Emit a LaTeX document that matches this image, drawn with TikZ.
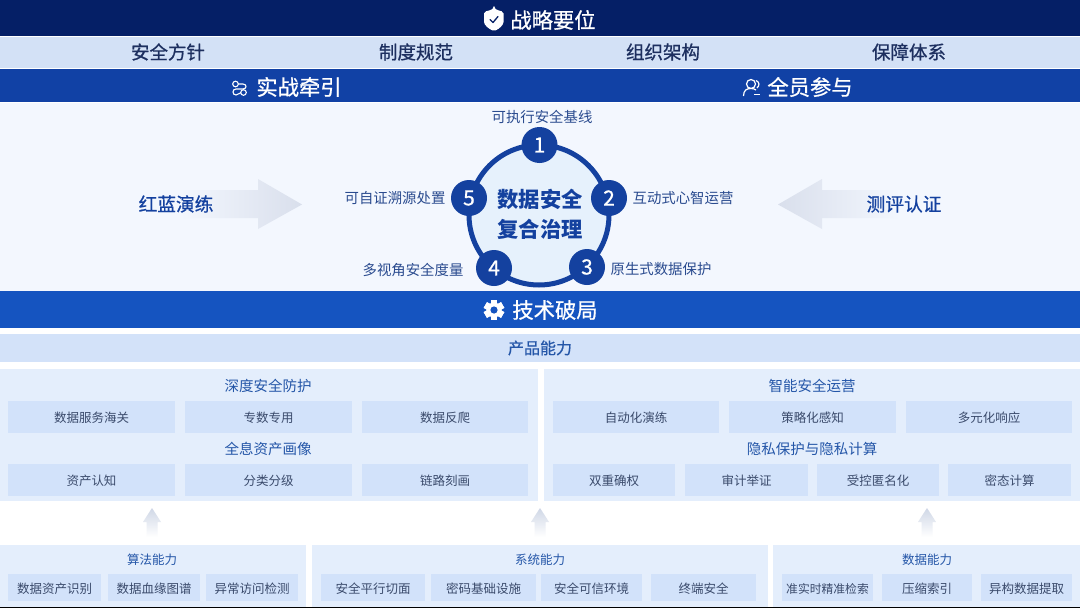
\documentclass[tikz,border=0pt]{standalone}
\usepackage{fontspec}
\setmainfont{Noto Sans CJK SC}
\newfontfamily\medfont[FakeBold=0.8]{Noto Sans CJK SC}
\usetikzlibrary{calc}
\definecolor{navy}{HTML}{051F66}
\definecolor{rowlight}{HTML}{D3E1F6}
\definecolor{barblue}{HTML}{1141A5}
\definecolor{techblue}{HTML}{1554C0}
\definecolor{panelbg}{HTML}{F3F7FE}
\definecolor{prodbar}{HTML}{D3E2F9}
\definecolor{panelblue}{HTML}{E4EEFC}
\definecolor{cellblue}{HTML}{D2E2FA}
\definecolor{inktitle}{HTML}{2456A8}
\definecolor{inkdark}{HTML}{1D2F5F}
\definecolor{inkcell}{HTML}{3A4A6B}
\definecolor{inklabel}{HTML}{2A4B8F}
\definecolor{ringblue}{HTML}{14419F}
\definecolor{discfill}{HTML}{E6F1FC}
\definecolor{arrowgrey}{HTML}{D9DFEC}
\definecolor{uparrowgrey}{HTML}{CFD7E6}
\definecolor{baseline}{HTML}{9AA5B8}
\tikzset{
  x=1pt,y=-1pt,
  rect/.style={inner sep=0pt,outer sep=0pt,anchor=north west},
  cell/.style={rect,fill=cellblue,text=inkcell,font=\fontsize{12.5}{14}\selectfont,align=center,text height=13pt,text depth=1.5pt},
  pillar/.style={inner sep=0pt,text=inkdark,font=\medfont\fontsize{18.5}{20}\selectfont},
  bartext/.style={inner sep=0pt,text=white,font=\medfont\fontsize{21.3}{24}\selectfont},
  subhead/.style={inner sep=0pt,text=inktitle,font=\fontsize{14.5}{16}\selectfont},
  subheadsm/.style={inner sep=0pt,text=inktitle,font=\fontsize{12.5}{14}\selectfont},
  badge/.style={circle,fill=ringblue,text=white,minimum size=36pt,inner sep=0pt,font=\medfont\fontsize{21}{24}\selectfont},
  looplabel/.style={inner sep=0pt,text=inklabel,font=\fontsize{14.4}{16}\selectfont},
  drilllabel/.style={inner sep=0pt,text=ringblue,font=\medfont\fontsize{18.7}{20}\selectfont},
}
\newcommand{\boxat}[7]{\node[#1,minimum width=#5pt-#3pt,minimum height=#6pt-#4pt] (#2) at (#3,#4) {#7};}
\begin{document}
\begin{tikzpicture}
\useasboundingbox (0,0) rectangle (1080,608);
\fill[white] (0,0) rectangle (1080,608);
% bands
\fill[navy] (0,0) rectangle (1080,36);
\fill[rowlight] (0,37) rectangle (1080,68);
\fill[barblue] (0,69) rectangle (1080,102);
\fill[panelbg] (0,103) rectangle (1080,291);
\fill[techblue] (0,291) rectangle (1080,328);
\fill[prodbar] (0,334) rectangle (1080,362);
\fill[panelblue] (0,369) rectangle (538,501);
\fill[panelblue] (544,369) rectangle (1080,501);
\fill[panelblue] (0,545) rectangle (306,607);
\fill[panelblue] (312,545) rectangle (768,607);
\fill[panelblue] (773,545) rectangle (1080,607);
\fill[baseline] (0,607) rectangle (1080,608);
% top titles
\node[bartext] (tStrategy) at (553,20) {战略要位};
\node[pillar] (p1) at (168,52) {安全方针};
\node[pillar] (p2) at (416,52) {制度规范};
\node[pillar] (p3) at (663,52) {组织架构};
\node[pillar] (p4) at (909,52) {保障体系};
\node[bartext] (tPractice) at (299,87) {实战牵引};
\node[bartext] (tAll) at (810,87) {全员参与};
\node[bartext] (tTech) at (555,310) {技术破局};
\node[inner sep=0pt,text=inktitle,font=\medfont\fontsize{16}{18}\selectfont] (tProduct) at (540,348) {产品能力};
% shield icon
\fill[white,rounded corners=2pt] (494,8) .. controls (497,10) and (500,11) .. (503.5,11.5) -- (503.5,20)
  .. controls (503.5,25) and (499,29) .. (494,31) .. controls (489,29) and (484,25) .. (484,20)
  -- (484,11.5) .. controls (488,11) and (491,10) .. (494,8) -- cycle;
\draw[navy,line width=1.3pt,line cap=round,line join=round] (490,19.5) -- (493,22.5) -- (498,16.5);
% link icon
\draw[white,line width=1.1pt] (235.5,84) circle (2.8) (243.5,92.5) circle (2.8);
\draw[white,line width=1.1pt,line cap=round] (238.3,84) -- (243,84) .. controls (247,84) and (247,89) .. (243,89) -- (236,89) .. controls (232,89) and (232,95) .. (236,95) -- (240.5,93);
% people icon
\draw[white,line width=1.2pt] (751,84) circle (4.5);
\draw[white,line width=1.2pt] (743.5,96) .. controls (743.5,90) and (747,88.5) .. (751,88.5) .. controls (753,88.5) and (755,89) .. (756,90);
\draw[white,line width=1.2pt] (756,80.5) .. controls (760,82) and (759.5,86) .. (757,88);
\draw[white,line width=1.2pt] (754,94.5) -- (760,94.5);
% gear icon
\foreach \a in {0,60,...,300}{\fill[white,rotate around={\a:(494,310)}] (490.7,300) rectangle (497.3,320);}
\fill[white] (494,310) circle (7.5);
\fill[techblue] (494,310) circle (3.6);
% side arrows
\shade[left color=panelbg,right color=arrowgrey]
  (180,190) -- (258,190) -- (258,179) -- (302,204.5) -- (258,229) -- (258,218) -- (180,218) -- cycle;
\shade[left color=arrowgrey,right color=panelbg]
  (900,190) -- (822,190) -- (822,179) -- (778,204.5) -- (822,229) -- (822,218) -- (900,218) -- cycle;
\node[drilllabel] (tRed) at (176,204) {红蓝演练};
\node[drilllabel] (tEval) at (904,204) {测评认证};
% loop
\node[circle,draw=ringblue,line width=5pt,fill=discfill,minimum size=140pt,inner sep=0pt] (ring) at (539,215) {};
\node[inner sep=0pt,text=ringblue,font=\bfseries\fontsize{21.3}{30}\selectfont,align=center] (core) at (540,214) {数据安全\\复合治理};
\node[badge] (b1) at (539.5,145) {1};
\node[badge] (b2) at (609,198) {2};
\node[badge] (b3) at (587,267) {3};
\node[badge] (b4) at (494,268) {4};
\node[badge] (b5) at (469,198) {5};
\node[looplabel] (l1) at (542,116.7) {可执行安全基线};
\node[looplabel] (l2) at (683,198) {互动式心智运营};
\node[looplabel] (l3) at (661,269.5) {原生式数据保护};
\node[looplabel] (l4) at (413,270) {多视角安全度量};
\node[looplabel] (l5) at (395,198) {可自证溯源处置};
% product panels
\node[subhead] (h1) at (268,385.5) {深度安全防护};
\node[subhead] (h2) at (268,448.5) {全息资产画像};
\node[subhead] (h3) at (812,385.5) {智能安全运营};
\node[subhead] (h4) at (812,448.5) {隐私保护与隐私计算};
\boxat{cell}{c11}{8}{401}{175}{433}{数据服务海关}
\boxat{cell}{c12}{185}{401}{352}{433}{专数专用}
\boxat{cell}{c13}{362}{401}{528}{433}{数据反爬}
\boxat{cell}{c21}{8}{464}{175}{496}{资产认知}
\boxat{cell}{c22}{185}{464}{352}{496}{分类分级}
\boxat{cell}{c23}{362}{464}{528}{496}{链路刻画}
\boxat{cell}{c31}{553}{401}{719}{433}{自动化演练}
\boxat{cell}{c32}{729}{401}{896}{433}{策略化感知}
\boxat{cell}{c33}{906}{401}{1072}{433}{多元化响应}
\boxat{cell}{c41}{553}{464}{675}{496}{双重确权}
\boxat{cell}{c42}{685}{464}{808}{496}{审计举证}
\boxat{cell}{c43}{817}{464}{939}{496}{受控匿名化}
\boxat{cell}{c44}{948}{464}{1071}{496}{密态计算}
% up arrows
\foreach \cx in {152,540,927}{
  \shade[top color=uparrowgrey,bottom color=white]
    (\cx,508) -- (\cx+9,522) -- (\cx+5.5,522) -- (\cx+5.5,537) -- (\cx-5.5,537) -- (\cx-5.5,522) -- (\cx-9,522) -- cycle;
}
% foundation
\node[subheadsm] (f1) at (152,560) {算法能力};
\node[subheadsm] (f2) at (540,560) {系统能力};
\node[subheadsm] (f3) at (927,560) {数据能力};
\boxat{cell}{d1}{8}{574}{101}{601}{数据资产识别}
\boxat{cell}{d2}{108}{574}{200}{601}{数据血缘图谱}
\boxat{cell}{d3}{206}{574}{298}{601}{异常访问检测}
\boxat{cell}{d4}{321}{574}{425}{601}{安全平行切面}
\boxat{cell}{d5}{431}{574}{536}{601}{密码基础设施}
\boxat{cell}{d6}{541}{574}{642}{601}{安全可信环境}
\boxat{cell}{d7}{651}{574}{756}{601}{终端安全}
\boxat{cell,font=\fontsize{11.8}{14}\selectfont}{d8}{782}{574}{873}{601}{准实时精准检索}
\boxat{cell}{d9}{882}{574}{972}{601}{压缩索引}
\boxat{cell}{d10}{981}{574}{1072}{601}{异构数据提取}
\end{tikzpicture}
\end{document}
